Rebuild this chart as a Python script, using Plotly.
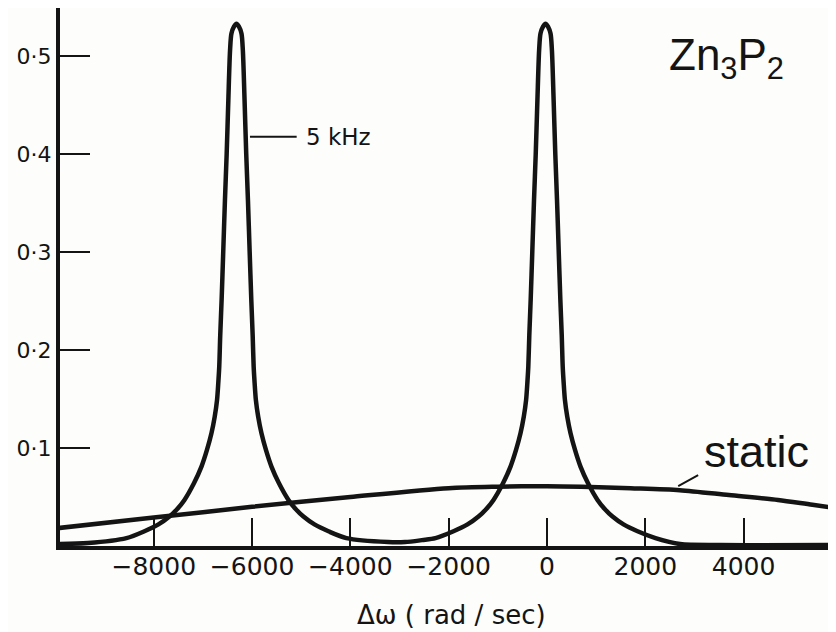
import plotly.graph_objects as go

# --- 5 kHz MAS spectrum ---
# peak centres (rad/sec)
peak_centres = [-6318, -30]
# one-sided peak profile: distance from centre (rad/sec) and height
profile_offset = [0, 51, 102, 130, 165, 199, 234, 269, 302, 330, 350, 370, 395,
                  442, 509, 600, 712, 865, 1058, 1200, 1363, 1587, 1872, 2238]
profile_height = [0.533, 0.530, 0.523, 0.506, 0.455, 0.400, 0.353, 0.300, 0.251,
                  0.215, 0.183, 0.166, 0.149, 0.132, 0.115, 0.098, 0.081, 0.064,
                  0.047, 0.038, 0.030, 0.022, 0.015, 0.008]
# outer tails and the valley between the peaks
left_tail_x = [-10010, -9339]
left_tail_y = [0.002, 0.003]
valley_x = [-3235, -2889, -2543]
valley_y = [0.004, 0.004, 0.006]
right_tail_x = [2706, 3520, 5880]
right_tail_y = [0.002, 0.001, 0.001]

# --- static spectrum ---
static_x = [-10000, -8000, -6000, -4000, -2000, -1000, 0, 700, 1700, 2700,
            3700, 4700, 5400, 6000]
static_y = [0.018, 0.029, 0.040, 0.050, 0.059, 0.0605, 0.061, 0.0605, 0.059, 0.057,
            0.052, 0.047, 0.042, 0.038]

x_ticks = [-8000, -6000, -4000, -2000, 0, 2000, 4000]
x_ticklabels = ["\u22128000", "\u22126000", "\u22124000", "\u22122000", "0", "2000", "4000"]
y_ticks = [0.1, 0.2, 0.3, 0.4, 0.5]
y_ticklabels = ["0\u00b71", "0\u00b72", "0\u00b73", "0\u00b74", "0\u00b75"]


def peak(centre):
    xs, ys = [], []
    for o, h in zip(reversed(profile_offset), reversed(profile_height)):
        xs.append(centre - o); ys.append(h)
    for o, h in zip(profile_offset[1:], profile_height[1:]):
        xs.append(centre + o); ys.append(h)
    return xs, ys


p1x, p1y = peak(peak_centres[0])
p2x, p2y = peak(peak_centres[1])
mas_x = left_tail_x + p1x + valley_x + p2x + right_tail_x
mas_y = left_tail_y + p1y + valley_y + p2y + right_tail_y

INK = "#141414"
BG = "#fdfdfb"

fig = go.Figure()
fig.add_trace(go.Scatter(x=static_x, y=static_y, mode="lines",
                         line=dict(color=INK, width=4.5, shape="spline", smoothing=0.8),
                         hoverinfo="skip", showlegend=False))
fig.add_trace(go.Scatter(x=mas_x, y=mas_y, mode="lines",
                         line=dict(color=INK, width=4.5, shape="spline", smoothing=0.8),
                         hoverinfo="skip", showlegend=False))

fig.update_layout(
    width=828, height=624, autosize=False,
    margin=dict(l=52, r=0, t=0, b=86, pad=0),
    paper_bgcolor=BG, plot_bgcolor=BG,
    showlegend=False,
    xaxis=dict(range=[-9908, 5880], showgrid=False, zeroline=False, automargin=False,
               showline=True, linewidth=4, linecolor=INK, mirror=True,
               ticks="inside", ticklen=28, tickwidth=2, tickcolor=INK,
               tickvals=x_ticks, ticktext=x_ticklabels, ticklabelstandoff=-5,
               tickfont=dict(family="DejaVu Sans", size=25, color=INK)),
    yaxis=dict(range=[0, 0.549], showgrid=False, zeroline=False, automargin=False,
               showline=True, linewidth=4, linecolor=INK, mirror=False,
               ticks="inside", ticklen=30, tickwidth=2, tickcolor=INK,
               tickvals=y_ticks, ticktext=y_ticklabels,
               tickfont=dict(family="DejaVu Sans", size=22, color=INK)),
    annotations=[
        dict(x=0.504, y=-0.128, xref="paper", yref="paper",
             text="\u0394\u03c9 ( rad / sec)", showarrow=False,
             font=dict(family="DejaVu Sans", size=26, color=INK),
             xanchor="center", yanchor="middle"),
        dict(x=2442, y=0.4975, xref="x", yref="y",
             text="Zn<sub>3</sub>P<sub>2</sub>", showarrow=False,
             font=dict(family="Liberation Sans", size=44, color=INK),
             xanchor="left", yanchor="middle"),
        dict(x=3154, y=0.096, xref="x", yref="y",
             text="static", showarrow=False,
             font=dict(family="Liberation Sans", size=45, color=INK),
             xanchor="left", yanchor="middle"),
        dict(x=-4944, y=0.4177, xref="x", yref="y",
             text="5 kHz", showarrow=False,
             font=dict(family="DejaVu Sans", size=23, color=INK),
             xanchor="left", yanchor="middle"),
    ],
    shapes=[
        dict(type="line", xref="x", yref="y", x0=-6043, y0=0.4177, x1=-5093, y1=0.4177,
             line=dict(color=INK, width=2)),
        dict(type="line", xref="x", yref="y", x0=2670, y0=0.0612, x1=3075, y1=0.0724,
             line=dict(color=INK, width=2)),
    ],
)

fig.write_html("out.html")
